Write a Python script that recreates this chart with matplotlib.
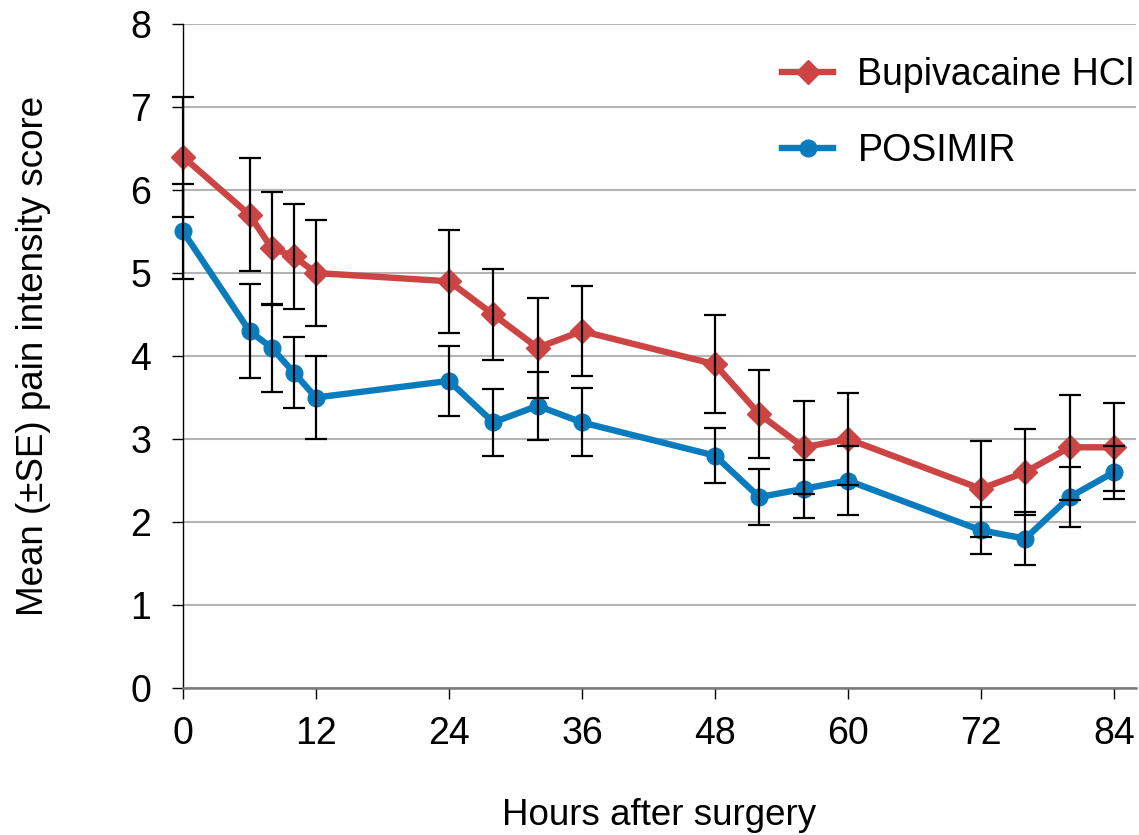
import matplotlib.pyplot as plt

plt.rcParams["font.family"] = ["Liberation Sans", "DejaVu Sans"]

hours = [0, 6, 8, 10, 12, 24, 28, 32, 36, 48, 52, 56, 60, 72, 76, 80, 84]

bupi_mean = [6.4, 5.7, 5.3, 5.2, 5.0, 4.9, 4.5, 4.1, 4.3, 3.9, 3.3, 2.9, 3.0, 2.4, 2.6, 2.9, 2.9]
bupi_se = [0.72, 0.68, 0.68, 0.63, 0.64, 0.62, 0.55, 0.6, 0.54, 0.59, 0.53, 0.56, 0.55, 0.58, 0.52, 0.63, 0.53]

posimir_mean = [5.5, 4.3, 4.1, 3.8, 3.5, 3.7, 3.2, 3.4, 3.2, 2.8, 2.3, 2.4, 2.5, 1.9, 1.8, 2.3, 2.6]
posimir_se = [0.57, 0.57, 0.53, 0.43, 0.5, 0.42, 0.4, 0.41, 0.41, 0.33, 0.34, 0.35, 0.42, 0.28, 0.32, 0.36, 0.32]

red = "#CC4444"
blue = "#0A7CBE"

fig = plt.figure(figsize=(11.39, 8.35), dpi=100)
ax = fig.add_axes([0.1607, 0.176, 0.8367, 0.7953])

ax.plot(hours, bupi_mean, color=red, lw=4.6, marker="D", ms=12,
        label="Bupivacaine HCl", zorder=3, clip_on=False)
ax.plot(hours, posimir_mean, color=blue, lw=4.6, marker="o", ms=12,
        label="POSIMIR", zorder=3, clip_on=False)

for mean, se in [(bupi_mean, bupi_se), (posimir_mean, posimir_se)]:
    eb = ax.errorbar(hours, mean, yerr=se, fmt="none", ecolor="black",
                     elinewidth=1.6, capsize=8, capthick=1.6, zorder=4)
    for artist in eb.lines[1] + eb.lines[2]:
        artist.set_clip_on(False)

ax.set_xlim(0, 86)
ax.set_ylim(0, 8)
ax.set_xticks([0, 12, 24, 36, 48, 60, 72, 84])
ax.set_yticks(range(0, 9))

ax.grid(axis="y", color="#B4B4B4", lw=1.5)
ax.set_axisbelow(True)

for s in ["top", "right"]:
    ax.spines[s].set_visible(False)
ax.spines["left"].set_color("black")
ax.spines["left"].set_linewidth(1.0)
ax.spines["bottom"].set_color("#7A7A7A")
ax.spines["bottom"].set_linewidth(1.8)

ax.tick_params(axis="both", direction="out", length=8, width=1.0,
               color="black", labelsize=27)
ax.tick_params(axis="y", pad=15)
ax.tick_params(axis="x", pad=12)

ax.set_xlabel("Hours after surgery", fontsize=26.5, labelpad=33)
ax.set_ylabel("Mean (\u00b1SE) pain intensity score", fontsize=26.5, labelpad=57)

ax.legend(loc="upper right", bbox_to_anchor=(1.018, 0.978), frameon=False,
          fontsize=27, handlelength=1.35, handletextpad=0.65,
          labelspacing=1.05, borderaxespad=0.1)

fig.savefig("out.png", dpi=100)
